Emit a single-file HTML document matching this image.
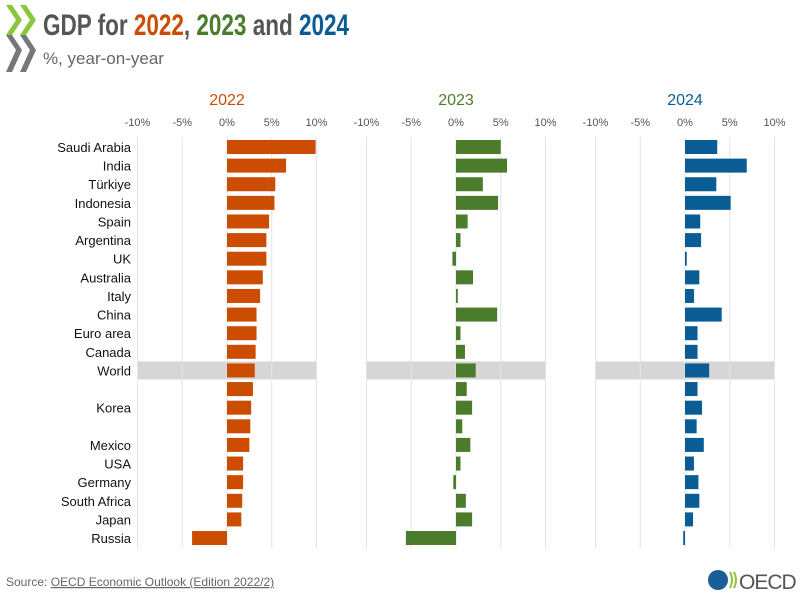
<!DOCTYPE html>
<html><head><meta charset="utf-8"><style>
body{margin:0;background:#fff;width:800px;height:600px;overflow:hidden;font-family:"Liberation Sans",sans-serif}
</style></head><body>
<svg id="c" width="800" height="600" xmlns="http://www.w3.org/2000/svg">
<g>
<polygon points="6,5 12,5 22,20 12,35 6,35 16,20" fill="#8cc63f"/>
<polygon points="20,5 26,5 36,20 26,35 20,35 30,20" fill="#8cc63f"/>
<polygon points="6,35 12,35 22,50 12,72 6,72 16,50" fill="#777"/>
<polygon points="20,35 26,35 36,50 26,72 20,72 30,50" fill="#777"/>
</g>
<text x="43" y="35" font-size="30" font-weight="bold" fill="#555" textLength="306" lengthAdjust="spacingAndGlyphs">GDP for <tspan fill="#cc4c02">2022</tspan>, <tspan fill="#4a7c2c">2023</tspan> and <tspan fill="#0a5c94">2024</tspan></text>
<text x="43" y="64" font-size="17" fill="#666">%, year-on-year</text>
<g id="plots"></g>
<text x="6" y="586" font-size="12" fill="#666">Source: <tspan text-decoration="underline">OECD Economic Outlook (Edition 2022/2)</tspan></text>
<g>
<circle cx="718" cy="580" r="10" fill="#1a5d99"/>
<path d="M730 572 q4 8 0 16 M734 572 q4 8 0 16" stroke="#8cc63f" stroke-width="2" fill="none"/>
<text x="739" y="589" font-size="21" fill="#555" letter-spacing="-1">OECD</text>
</g>
</svg>
<script>
const countries=["Saudi Arabia","India","Türkiye","Indonesia","Spain","Argentina","UK","Australia","Italy","China","Euro area","Canada","World","","Korea","","Mexico","USA","Germany","South Africa","Japan","Russia"];
const years=["2022","2023","2024"];
const v2022=[9.9,6.6,5.4,5.3,4.7,4.4,4.4,4.0,3.7,3.3,3.3,3.2,3.1,2.9,2.7,2.6,2.5,1.8,1.8,1.7,1.6,-3.9];
const v2023=[5.0,5.7,3.0,4.7,1.3,0.5,-0.4,1.9,0.2,4.6,0.5,1.0,2.2,1.2,1.8,0.7,1.6,0.5,-0.3,1.1,1.8,-5.6];
const v2024=[3.6,6.9,3.5,5.1,1.7,1.8,0.2,1.6,1.0,4.1,1.4,1.4,2.7,1.4,1.9,1.3,2.1,1.0,1.5,1.6,0.9,-0.2];
const ticks=[-10,-5,0,5,10];
const series=[v2022,v2023,v2024];
const colors=["#cc4c02","#4a7c2c","#0a5c94"];
const NS="http://www.w3.org/2000/svg";
const g=document.getElementById('plots');
const zeros=[227,456,685], ppu=8.95;
const y0=147, step=18.62, barH=14, plotTop=137, plotBottom=548;
function yOf(i){return y0+i*step;}
function mk(t,a,p){const e=document.createElementNS(NS,t);for(const k in a)e.setAttribute(k,a[k]);(p||g).appendChild(e);return e;}
countries.forEach((c,i)=>{
 const t=mk('text',{x:131,y:yOf(i)+5,'font-size':13,fill:'#111','text-anchor':'end'});
 t.textContent=c;
 
 
});
series.forEach((vals,p)=>{
 const z=zeros[p];
 const xOf=v=>z+v*ppu;
 const wi=countries.indexOf("World");
 const band=mk('rect',{x:xOf(-10),y:yOf(wi)-9,width:xOf(10)-xOf(-10),height:18,fill:'#d6d6d6'});
 
 
 ticks.forEach(tv=>{
  const l=mk('line',{x1:xOf(tv),x2:xOf(tv),y1:plotTop,y2:plotBottom,stroke:'#e4e4e4','stroke-width':1});
  
  
  const t=mk('text',{x:xOf(tv),y:126,'font-size':11,fill:'#555','text-anchor':'middle'});
  t.textContent=tv+'%';
  
  
 });
 const h=mk('text',{x:z,y:105,'font-size':16,fill:colors[p],'text-anchor':'middle'});
 h.textContent=years[p];
 
 
 vals.forEach((v,i)=>{
  const x=Math.min(xOf(0),xOf(v)), w=Math.max(Math.abs(xOf(v)-xOf(0)),1.5);
  const r=mk('rect',{x:x,y:yOf(i)-barH/2,width:w,height:barH,fill:colors[p]});
  
  
 });
});
</script>
</body></html>
